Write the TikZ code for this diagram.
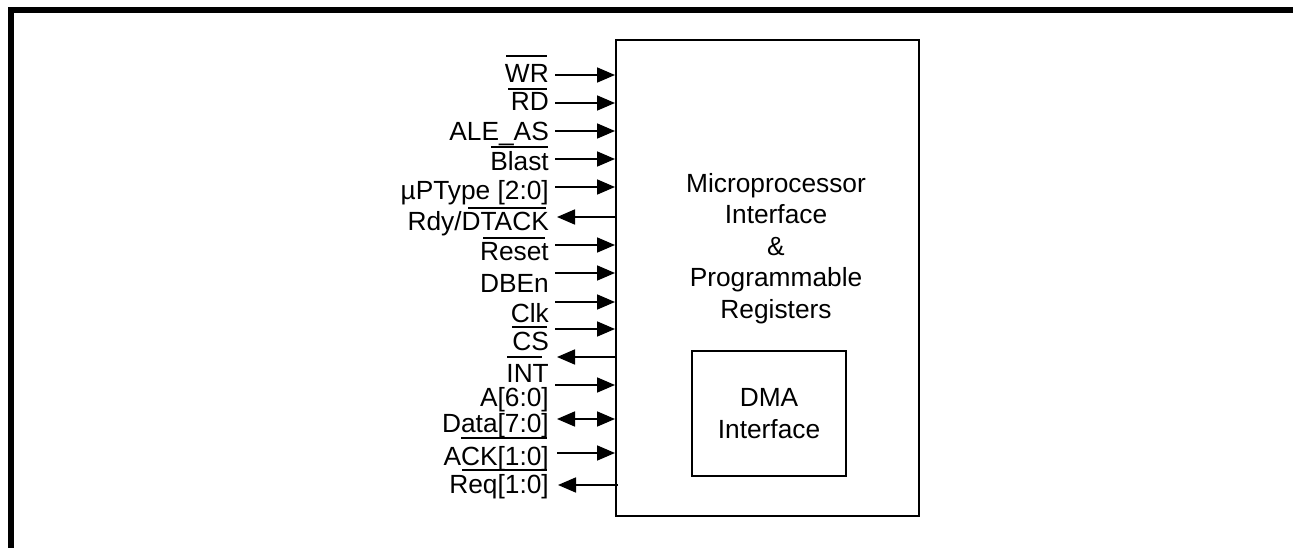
\documentclass[tikz,border=0pt]{standalone}
\usepackage{fontspec}
\setmainfont{Liberation Sans}
\usetikzlibrary{arrows.meta}
\begin{document}
\begin{tikzpicture}[x=1pt,y=-1pt,
  txt/.style={font=\fontsize{26.3}{31.5}\selectfont, inner sep=0pt},
  lbl/.style={txt, anchor=base east},
  sig/.style={line width=1.8pt, -{Triangle[length=18pt,width=15pt]}},
  dbl/.style={line width=1.8pt, {Triangle[length=18pt,width=15pt]}-{Triangle[length=18pt,width=15pt]}},
  bar/.style={line width=1.8pt},
  blk/.style={draw, line width=1.6pt, inner sep=0pt}]
\useasboundingbox (0,0) rectangle (1293,548);
\fill[white] (0,0) rectangle (1293,548);
% frame
\draw[line width=6pt] (11,548) -- (11,10) -- (1293,10);
% blocks
\node[blk, minimum width=303pt, minimum height=476pt, anchor=north west] (mp) at (615,39) {};
\node[txt, align=center] (mptext) at (776,248.4) {Microprocessor\\Interface\\\&\\Programmable\\Registers};
\node[blk, txt, minimum width=154pt, minimum height=125pt, align=center] (dma) at (769,413.5) {DMA\\Interface};
% labels
\node[lbl] (wr) at (549,83) {WR};
\node[lbl] (rd) at (549,111) {RD};
\node[lbl] (ale) at (549,141) {ALE\_AS};
\node[lbl] (blast) at (549,171) {Blast};
\node[lbl] (uptype) at (549,200) {µPType [2:0]};
\node[lbl] (rdy) at (549,231) {Rdy/DTACK};
\node[lbl] (reset) at (549,261) {Reset};
\node[lbl] (dben) at (549,292) {DBEn};
\node[lbl] (clk) at (549,322) {Clk};
\node[lbl] (cs) at (549,350) {CS};
\node[lbl] (int) at (549,382) {INT};
\node[lbl] (addr) at (549,406) {A[6:0]};
\node[lbl] (data) at (549,432) {Data[7:0]};
\node[lbl] (ack) at (549,465) {ACK[1:0]};
\node[lbl] (req) at (549,493) {Req[1:0]};
% bars
\draw[bar] (506,56) -- (547,56);
\draw[bar] (508,89) -- (547,89);
\draw[bar] (491,147) -- (548,147);
\draw[bar] (468,208) -- (546,208);
\draw[bar] (483,238) -- (545,238);
\draw[bar] (512,327) -- (547,327);
\draw[bar] (507,357) -- (542,357);
\draw[bar] (461,438) -- (547,438);
\draw[bar] (462,470) -- (547,470);
% arrow tails
\coordinate (twr) at (555,75);
\coordinate (trd) at (555,103);
\coordinate (tale) at (555,131);
\coordinate (tblast) at (555,159);
\coordinate (tup) at (555,187);
\coordinate (trdy) at (557,217);
\coordinate (treset) at (555,245);
\coordinate (tdben) at (555,273);
\coordinate (tclk) at (555,302);
\coordinate (tcs) at (555,329);
\coordinate (tint) at (557,357);
\coordinate (taddr) at (555,385);
\coordinate (tdata) at (557,419);
\coordinate (tack) at (557,453);
\coordinate (treq) at (558,485);
\coordinate (ereq) at (618,485);
% connectors
\draw[sig] (twr) -- (twr -| mp.west);
\draw[sig] (trd) -- (trd -| mp.west);
\draw[sig] (tale) -- (tale -| mp.west);
\draw[sig] (tblast) -- (tblast -| mp.west);
\draw[sig] (tup) -- (tup -| mp.west);
\draw[sig] (trdy -| mp.west) -- (trdy);
\draw[sig] (treset) -- (treset -| mp.west);
\draw[sig] (tdben) -- (tdben -| mp.west);
\draw[sig] (tclk) -- (tclk -| mp.west);
\draw[sig] (tcs) -- (tcs -| mp.west);
\draw[sig] (tint -| mp.west) -- (tint);
\draw[sig] (taddr) -- (taddr -| mp.west);
\draw[dbl] (tdata) -- (tdata -| mp.west);
\draw[sig] (tack) -- (tack -| mp.west);
\draw[sig] (ereq) -- (treq);
\end{tikzpicture}
\end{document}
